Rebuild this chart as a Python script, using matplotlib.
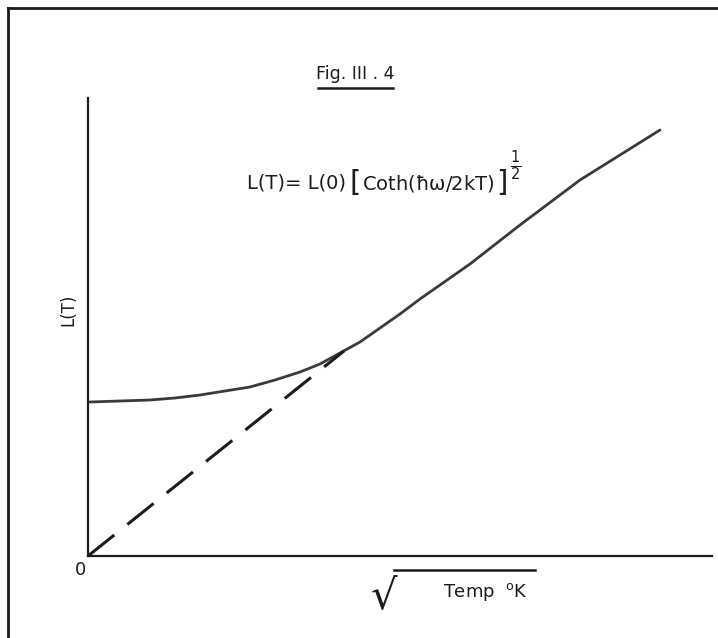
import numpy as np
import matplotlib
matplotlib.use('Agg')
from matplotlib import pyplot as plt
from matplotlib.lines import Line2D

plt.rcParams['font.family'] = ['DejaVu Sans']
plt.rcParams['mathtext.fontset'] = 'dejavusans'
plt.rcParams['mathtext.default'] = 'regular'

# L(T) curve (x = sqrt T, arbitrary units)
sqrt_t = [0.02, 0.32, 0.62, 0.87, 1.12, 1.37, 1.62, 1.87, 2.12, 2.32, 2.52,
          2.72, 2.92, 3.12, 3.32, 3.82, 4.32, 4.92, 5.72]
l_t = [1.54, 1.55, 1.56, 1.58, 1.61, 1.65, 1.69, 1.76, 1.84, 1.92, 2.03,
       2.14, 2.28, 2.42, 2.57, 2.92, 3.31, 3.76, 4.26]

# high temperature asymptote (dashed)
asym_x = [0.0, 2.56]
asym_y = [0.0, 2.05]

W, H = 718, 638
fig = plt.figure(figsize=(W / 100, H / 100), dpi=100)
ink = '#1c1c1c'

ax = fig.add_axes([88 / W, (H - 556) / H, 624 / W, 458 / H])
ax.set_xlim(0, 6.24)
ax.set_ylim(0, 4.58)
for s in ['top', 'right']:
    ax.spines[s].set_visible(False)
for s in ['left', 'bottom']:
    ax.spines[s].set_linewidth(1.6)
    ax.spines[s].set_color(ink)
ax.set_xticks([])
ax.set_yticks([])
ax.patch.set_alpha(0)

ax.plot(sqrt_t, l_t, color='#3a3a3a', lw=2.0, solid_capstyle='round')
ax.plot(asym_x, asym_y, color=ink, lw=2.2, dashes=(11, 5.5))

# page border of the scan
fig.add_artist(Line2D([8 / W, 1], [1 - 8 / H, 1 - 8 / H], transform=fig.transFigure,
                      color=ink, lw=2.0))
fig.add_artist(Line2D([8 / W, 8 / W], [0, 1 - 8 / H], transform=fig.transFigure,
                      color=ink, lw=2.0))


def fx(px):
    return px / W


def fy(py):
    return 1 - py / H


fig.text(fx(355), fy(74), 'Fig. III . 4', ha='center', va='center', fontsize=12.5, color=ink)
fig.add_artist(Line2D([fx(318), fx(393)], [fy(88), fy(88)], transform=fig.transFigure,
                      color=ink, lw=1.8))

# equation, laid out piece by piece so the brackets can be tall
renderer = fig.canvas.get_renderer()
pieces = [('L(T)= L(0)', 14, 183, 4),
          ('[', 21, 183, 1),
          (r'Coth($\hbar\omega$/2kT)', 14, 183, 1),
          (']', 21, 183, 3),
          (r'$\frac{1}{2}$', 15, 166, 0)]
xpos = 247
for txt, fs, ypix, gap in pieces:
    t = fig.text(fx(xpos), fy(ypix), txt, ha='left', va='center', fontsize=fs, color=ink)
    xpos = t.get_window_extent(renderer).x1 + gap

fig.text(fx(68), fy(310), 'L(T)', rotation=90, ha='center', va='center',
         fontsize=12, color=ink)
fig.text(fx(80), fy(570), '0', ha='center', va='center', fontsize=13, color=ink)

fig.text(fx(384), fy(596), '\u221a', ha='center', va='center', fontsize=30, color=ink)
fig.add_artist(Line2D([fx(394), fx(535)], [fy(570), fy(570)], transform=fig.transFigure,
                      color=ink, lw=1.8))
fig.text(fx(443), fy(592), r'Temp  $^{o}$K', ha='left', va='center', fontsize=13,
         color=ink)

fig.savefig('out.png', dpi=100)
